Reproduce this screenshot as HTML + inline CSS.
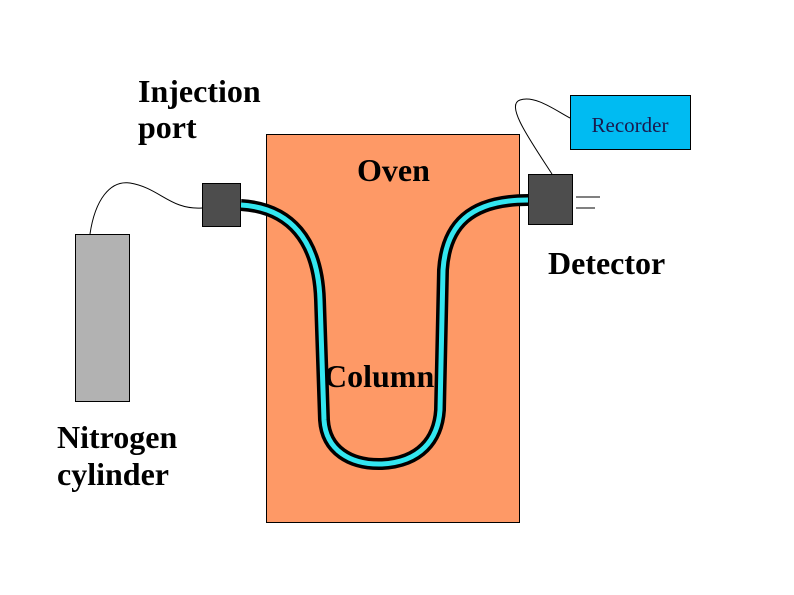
<!DOCTYPE html>
<html><head><style>
body{margin:0;background:#fff;}
svg{display:block}
text{font-family:"Liberation Serif",serif;}
.b{font-weight:bold;font-size:32px;}
</style></head><body>
<svg width="794" height="595" viewBox="0 0 794 595">
<rect width="794" height="595" fill="#fff"/>
<rect x="266.5" y="134.5" width="253" height="388" fill="#fe9966" stroke="#000"/>
<rect x="75.5" y="234.5" width="54" height="167" fill="#b2b2b2" stroke="#000"/>
<rect x="570.5" y="95.5" width="120" height="54" fill="#00bbf2" stroke="#000"/>
<path d="M90,234 C95,200 110,180 130,183 C160,188 170,210 202,208" fill="none" stroke="#000" stroke-width="1"/>
<path d="M552,174 C530,140 505,105 520,100 C535,95 555,110 570,118" fill="none" stroke="#000" stroke-width="1"/>
<line x1="576" y1="197" x2="600" y2="197" stroke="#000"/>
<line x1="576" y1="208" x2="595" y2="208" stroke="#000"/>
<path d="M241,205 C290,208 318,240 320,300 L324,420 C326,450 350,465 382,464 C420,462 438,440 440,410 L443,270 C446,225 470,200 528,200" fill="none" stroke="#000" stroke-width="12"/>
<path d="M241,205 C290,208 318,240 320,300 L324,420 C326,450 350,465 382,464 C420,462 438,440 440,410 L443,270 C446,225 470,200 528,200" fill="none" stroke="#33e6f0" stroke-width="5"/>
<rect x="202.5" y="183.5" width="38" height="43" fill="#4d4d4d" stroke="#000"/>
<rect x="528.5" y="174.5" width="44" height="50" fill="#4d4d4d" stroke="#000"/>
<text class="b" x="138" y="102">Injection</text>
<text class="b" x="138" y="138">port</text>
<text class="b" x="357" y="181">Oven</text>
<text class="b" x="548" y="274">Detector</text>
<text class="b" x="324" y="387">Column</text>
<text class="b" x="57" y="448">Nitrogen</text>
<text class="b" x="57" y="485">cylinder</text>
<text x="630" y="132" font-size="21" text-anchor="middle" fill="#1a1a4d">Recorder</text>
</svg>
</body></html>
